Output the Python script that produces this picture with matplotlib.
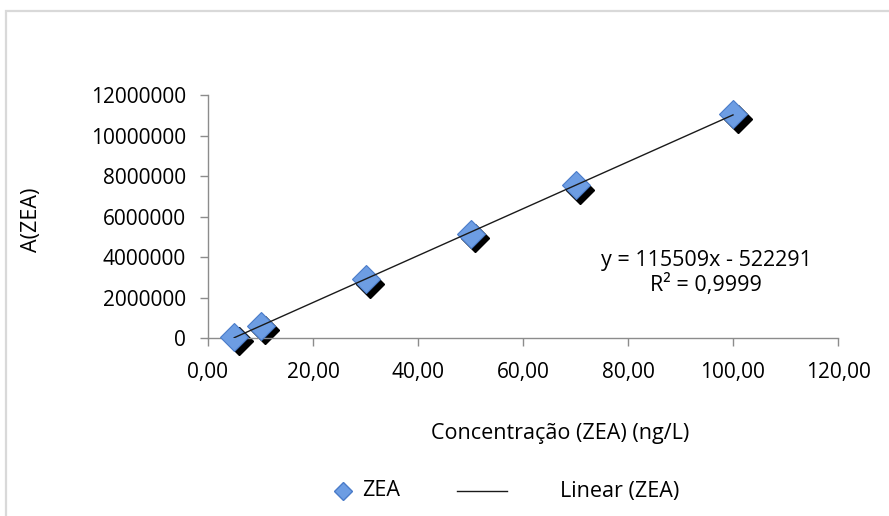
import numpy as np
import matplotlib
matplotlib.use("Agg")
import matplotlib.pyplot as plt
from matplotlib.lines import Line2D
from matplotlib.patches import Rectangle
import matplotlib.transforms as mtransforms

plt.rcParams['font.family'] = ['Open Sans', 'DejaVu Sans']

# Data
conc = [5, 10, 30, 50, 70, 100]
area = [55000, 600000, 2900000, 5150000, 7550000, 11050000]
x_ticks = [0, 20, 40, 60, 80, 100, 120]
x_tick_labels = ["0,00", "20,00", "40,00", "60,00", "80,00", "100,00", "120,00"]
y_ticks = [0, 2000000, 4000000, 6000000, 8000000, 10000000, 12000000]
y_tick_labels = [str(v) for v in y_ticks]
eq_text = "y = 115509x - 522291\nR² = 0,9999"
series_name = "ZEA"
trend_name = "Linear (ZEA)"
x_label = "Concentração (ZEA) (ng/L)"
y_label = "A(ZEA)"

W, H = 889, 516
fig = plt.figure(figsize=(W / 100, H / 100), dpi=100)

# chart border
fig.add_artist(Rectangle((5.5 / W, -20 / H), 1.2, (H - 10.5 + 20) / H,
                         transform=fig.transFigure, fill=False,
                         edgecolor='#d9d9d9', lw=1.6))

ax = fig.add_axes([208 / W, 1 - 338 / H, (838 - 208) / W, (338 - 95) / H])
ax.set_xlim(0, 120)
ax.set_ylim(0, 12000000)

# trendline
slope, intercept = np.polyfit(conc, area, 1)
xs = np.array([min(conc), max(conc)])
ax.plot(xs, slope * xs + intercept, color='#1a1a1a', lw=1.0, zorder=4)

# markers with shadow
shadow = mtransforms.offset_copy(ax.transData, fig=fig, x=4.5, y=-4.5, units='dots')
ax.plot(conc, area, linestyle='none', marker='D', markersize=14.5,
        color='black', transform=shadow, zorder=2, clip_on=False)
ax.plot(conc, area, linestyle='none', marker='D', markersize=14.5,
        markerfacecolor='#6d9de3', markeredgecolor='#4a7cc9', markeredgewidth=0.8,
        zorder=3, clip_on=False)

ax.set_xticks(x_ticks)
ax.set_xticklabels(x_tick_labels)
ax.set_yticks(y_ticks)
ax.set_yticklabels(y_tick_labels)
for s in ['top', 'right']:
    ax.spines[s].set_visible(False)
for s in ['left', 'bottom']:
    ax.spines[s].set_color('#8c8c8c')
    ax.spines[s].set_linewidth(1.0)
ax.tick_params(axis='both', direction='out', length=6, width=1.0, color='#8c8c8c',
               labelsize=15, labelcolor='black')
ax.tick_params(axis='y', pad=10)
ax.tick_params(axis='x', pad=11)

fig.text(560 / W, 1 - 433 / H, x_label, ha='center', va='center', fontsize=15.5)
fig.text(32 / W, 1 - 220 / H, y_label, ha='center', va='center', fontsize=15.5, rotation=90)

fig.text(706 / W, 1 - 273 / H, eq_text, ha='center', va='center', fontsize=15.5,
         linespacing=1.2)

# legend
ly = 1 - 491 / H
fig.add_artist(Line2D([343 / W], [ly], marker='D', markersize=9, linestyle='none',
                      markerfacecolor='#6d9de3', markeredgecolor='#4a7cc9',
                      transform=fig.transFigure))
fig.text(362 / W, ly, series_name, ha='left', va='center', fontsize=15.5)
fig.add_artist(Line2D([457 / W, 507 / W], [ly, ly], color='#1a1a1a', lw=1.0,
                      transform=fig.transFigure))
fig.text(560 / W, ly, trend_name, ha='left', va='center', fontsize=15.5)

fig.savefig("out.png", dpi=100)
